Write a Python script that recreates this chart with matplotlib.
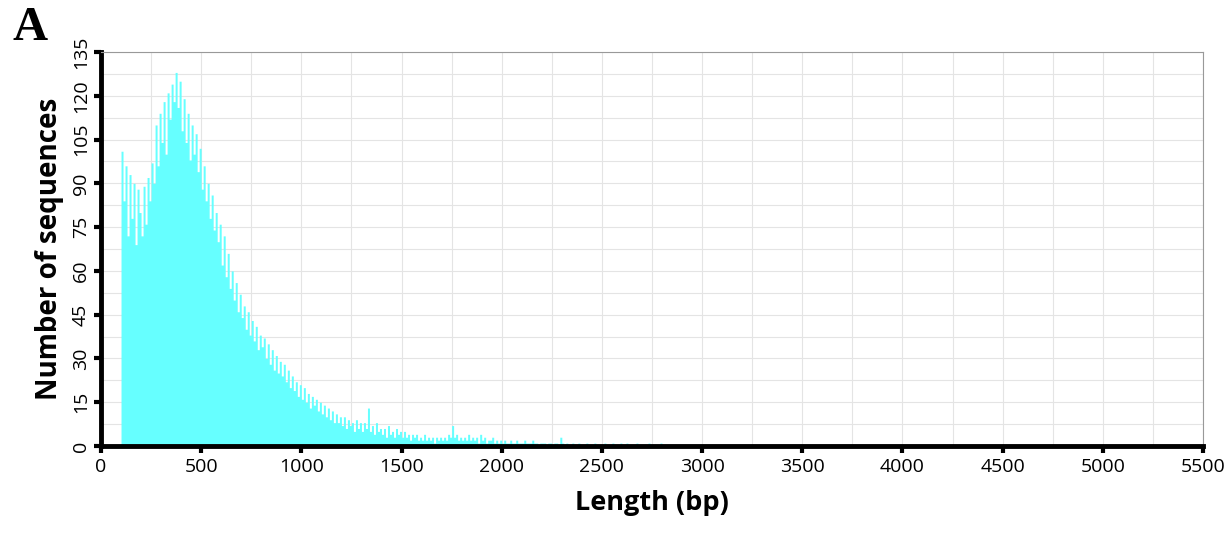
import matplotlib.pyplot as plt
import numpy as np
from matplotlib.ticker import MultipleLocator

# histogram of sequence lengths, 10 bp bins starting at 100 bp
bin_start = 100
bin_width = 10
counts = [
    101, 84, 96, 72, 93, 78, 90, 69, 88, 80,      # 100-190
    72, 89, 76, 92, 84, 97, 90, 110, 96, 114,     # 200-290
    104, 118, 100, 121, 112, 124, 118, 128, 116, 125,  # 300-390
    108, 119, 104, 114, 98, 110, 100, 107, 94, 102,    # 400-490
    88, 96, 84, 90, 78, 86, 74, 80, 70, 76,       # 500-590
    62, 72, 58, 66, 54, 60, 50, 56, 46, 52,       # 600-690
    44, 48, 40, 46, 38, 43, 36, 41, 33, 38,       # 700-790
    34, 37, 30, 35, 28, 33, 26, 31, 25, 29,       # 800-890
    24, 28, 22, 26, 20, 24, 19, 22, 17, 21,       # 900-990
    16, 20, 15, 18, 13, 17, 14, 16, 12, 15,       # 1000-1090
    11, 14, 10, 13, 9, 12, 8, 11, 8, 10,          # 1100-1190
    7, 10, 6, 9, 7, 8, 5, 9, 6, 8,                # 1200-1290
    5, 8, 6, 13, 5, 7, 4, 8, 5, 6,                # 1300-1390
    4, 6, 3, 7, 4, 5, 3, 6, 4, 5,                 # 1400-1490
    3, 5, 3, 4, 2, 4, 3, 4, 2, 3,                 # 1500-1590
    2, 4, 2, 3, 2, 3, 1, 3, 2, 3,                 # 1600-1690
    2, 3, 2, 4, 3, 7, 3, 4, 2, 3,                 # 1700-1790
    2, 3, 2, 4, 2, 3, 2, 3, 1, 4,                 # 1800-1890
    2, 3, 1, 2, 2, 3, 1, 2, 1, 2,                 # 1900-1990
    1, 2, 1, 1, 2, 1, 1, 2, 1, 1,                 # 2000-2090
    1, 2, 1, 1, 1, 2, 1, 1, 0.5, 1,               # 2100-2190
    1, 1, 0.5, 1, 1, 0.5, 1, 1, 0.5, 3,           # 2200-2290
    1, 0.5, 1, 0.5, 0.5, 1, 0.5, 0.5, 1, 0.5,     # 2300-2390
    0.5, 0.5, 1, 0.5, 0.5, 0.5, 1, 0.5, 0.5, 0.5, # 2400-2490
    0.5, 1, 0.5, 0.5, 0.5, 1, 0.5, 0.5, 0.5, 1,   # 2500-2590
    0.5, 0.5, 1, 0.5, 0.5, 0.5, 0.5, 1, 0.5, 0.5, # 2600-2690
    0.5, 0.5, 0.5, 1, 0.5, 0.5, 0.5, 0.5, 0.5, 1, # 2700-2790
    0.5, 0.5, 0, 0.5, 0, 0, 0.5, 0, 0, 0,         # 2800-2890
]
lengths = bin_start + bin_width * np.arange(len(counts))

plt.rcParams['font.family'] = ['Open Sans', 'DejaVu Sans']

fig = plt.figure(figsize=(12.27, 5.40), dpi=100)
ax = fig.add_axes([0.0823, 0.1741, 0.8981, 0.7296])

# step outline so neighbouring bins do not leave white seams
edges = np.append(lengths, lengths[-1] + bin_width)
heights = np.append(counts, counts[-1])
ax.fill_between(edges, heights, step='post', color='#66FFFF',
                linewidth=0, zorder=2)

ax.set_xlim(0, 5500)
ax.set_ylim(0, 135)
ax.xaxis.set_major_locator(MultipleLocator(500))
ax.xaxis.set_minor_locator(MultipleLocator(250))
ax.yaxis.set_major_locator(MultipleLocator(15))
ax.yaxis.set_minor_locator(MultipleLocator(7.5))
ax.grid(which='both', color='#e4e4e4', linewidth=0.8, zorder=0)
ax.set_axisbelow(True)

for s in ['left', 'bottom']:
    ax.spines[s].set_linewidth(3.5)
    ax.spines[s].set_color('black')
for s in ['top', 'right']:
    ax.spines[s].set_linewidth(0.8)
    ax.spines[s].set_color('#999999')

ax.tick_params(which='major', direction='out', length=5, width=3, color='black',
               labelsize=14, pad=4)
ax.tick_params(which='minor', length=0)
ax.tick_params(axis='y', labelrotation=90, labelsize=14, pad=3)
for lab in ax.get_yticklabels():
    lab.set_va('center')

ax.set_xlabel('Length (bp)', fontsize=19.5, fontweight='bold', labelpad=10)
ax.set_ylabel('Number of sequences', fontsize=20, fontweight='bold', labelpad=6)

fig.text(0.010, 0.988, 'A', fontsize=35, fontweight='bold',
         family='Liberation Serif', va='top', ha='left')

fig.savefig('out.png', dpi=100)
